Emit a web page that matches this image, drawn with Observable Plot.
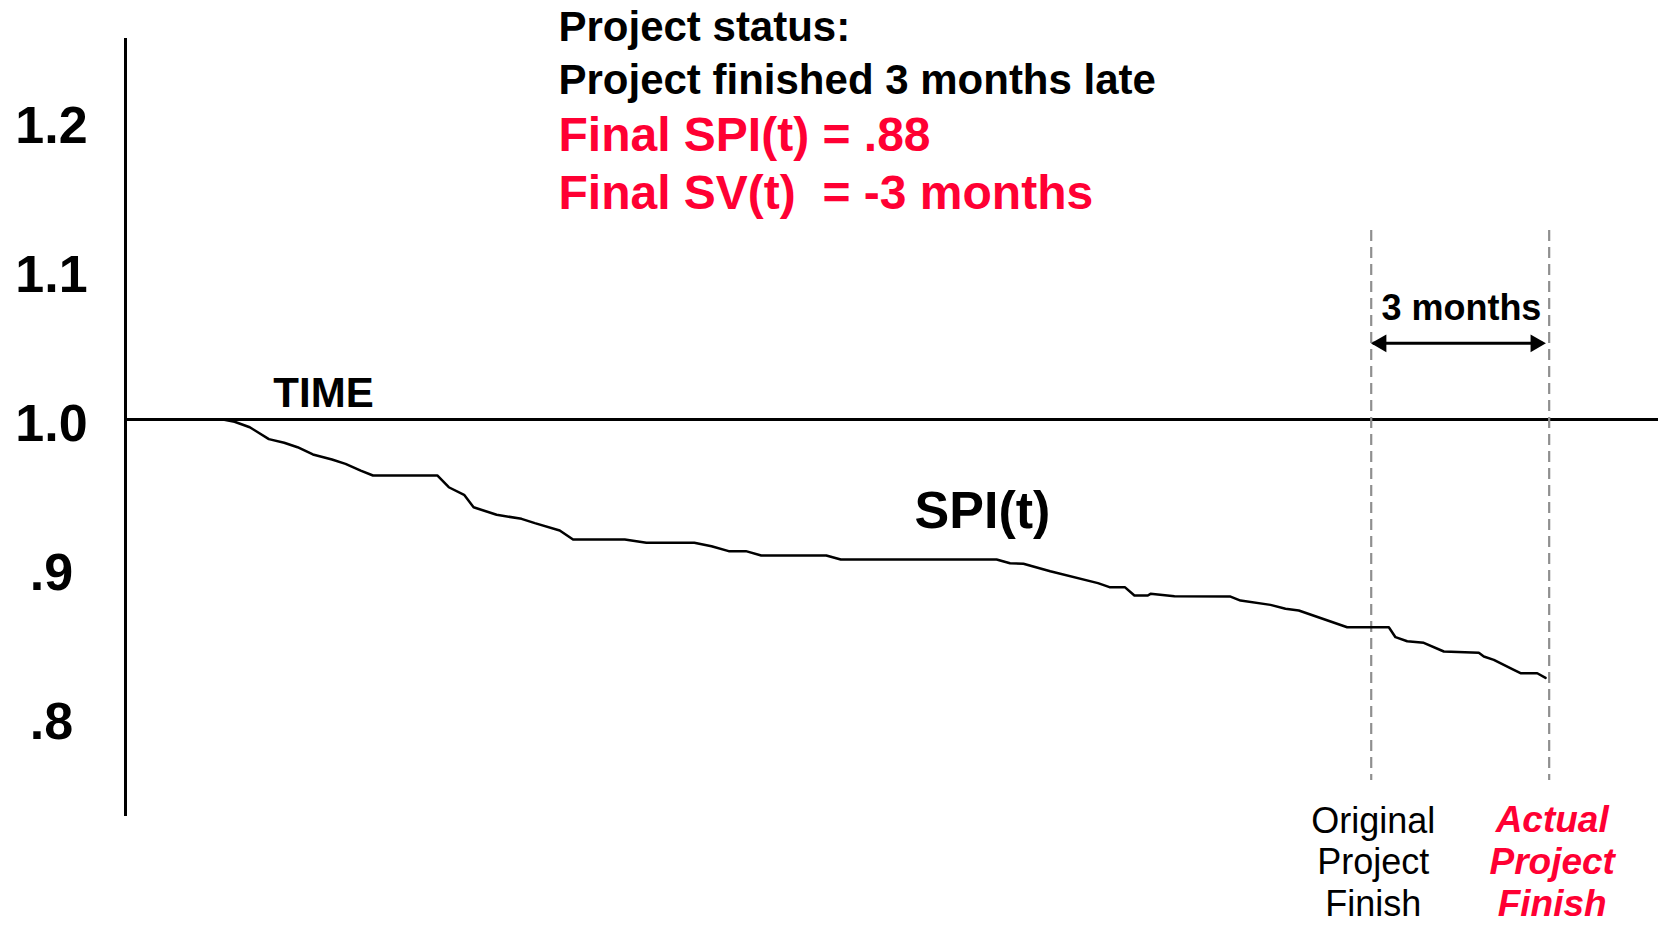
<!DOCTYPE html>
<html>
<head>
<meta charset="utf-8">
<script src="https://cdn.jsdelivr.net/npm/d3@7"></script>
<script src="https://cdn.jsdelivr.net/npm/@observablehq/plot@0.6"></script>
<style>
  html, body { margin: 0; padding: 0; background: #ffffff; }
  svg text { white-space: pre; }
</style>
</head>
<body>
<div id="chart"></div>
<script>
// ---- data (months since start, SPI(t)) ----
const months = [0, 1.644, 1.838, 2.095, 2.417, 2.675, 2.900, 3.159, 3.481, 3.709, 3.965, 4.172, 5.256, 5.450, 5.708, 5.868, 6.256, 6.676, 6.901, 7.320, 7.545, 8.417, 8.781, 9.589, 9.879, 10.169, 10.459, 10.717, 11.814, 12.058, 14.685, 14.911, 15.137, 15.589, 16.394, 16.588, 16.846, 17.008, 17.234, 17.280, 17.684, 18.628, 18.797, 19.302, 19.555, 19.779, 20.595, 21.297, 21.409, 21.607, 21.886, 22.224, 22.814, 22.898, 23.067, 23.404, 23.517, 23.799, 23.939];
const spi = [1.000, 1.000, 0.9985, 0.9948, 0.9868, 0.9844, 0.9814, 0.9765, 0.9731, 0.9702, 0.9657, 0.9624, 0.9624, 0.9545, 0.9494, 0.9411, 0.9360, 0.9333, 0.9304, 0.9255, 0.9194, 0.9194, 0.9172, 0.9172, 0.9149, 0.9116, 0.9116, 0.9087, 0.9087, 0.9060, 0.9060, 0.9035, 0.9031, 0.8981, 0.8901, 0.8874, 0.8874, 0.8818, 0.8818, 0.8829, 0.8813, 0.8811, 0.8784, 0.8755, 0.8729, 0.8717, 0.8605, 0.8605, 0.8538, 0.8511, 0.8500, 0.8442, 0.8433, 0.8408, 0.8386, 0.8319, 0.8296, 0.8296, 0.8265];
const yTicks = [1.2, 1.1, 1.0, 0.9, 0.8];
const yTickLabels = ["1.2", "1.1", "1.0", ".9", ".8"];
const baseline = [1.0];
const plannedFinish = 21;   // months
const actualFinish = 24;    // months
const statusLines = ["Project status:", "Project finished 3 months late"];
const resultLines = ["Final SPI(t) = .88", "Final SV(t)  = -3 months"];
const finishLabels = ["Original\nProject\nFinish", "Actual\nProject\nFinish"];
const gapLabel = ["3 months"];
const timeLabel = ["TIME"];
const seriesLabel = ["SPI(t)"];

// ---- build ----
const rows = months.map((m, i) => ({month: m, spi: spi[i]}));
const RED = "#ff0033";
const FONT = "'Liberation Sans', Arial, Helvetica, sans-serif";
const xMax = 25.843;
const arrowY = 1.0512;

const chart = Plot.plot({
  width: 1658,
  height: 926,
  marginLeft: 125,
  marginRight: 0,
  marginTop: 0,
  marginBottom: 0,
  style: {fontFamily: FONT, background: "#ffffff", color: "#000", overflow: "visible"},
  x: {domain: [0, xMax], axis: null},
  y: {domain: [0.6595, 1.2814], axis: null},
  marks: [
    // y tick labels via the library's axis
    Plot.axisY(yTicks, {
      anchor: "left",
      tickSize: 0,
      tickPadding: 0,
      tickFormat: d => yTickLabels[yTicks.indexOf(d)],
      textAnchor: "middle",
      dx: -74,
      dy: 5,
      fontSize: 52,
      fontWeight: "bold",
      fill: "#000",
      label: null
    }),
    // vertical axis line
    Plot.ruleX([0], {y1: 1.2559, y2: 0.7334, stroke: "#000", strokeWidth: 3}),
    // TIME baseline (SPI = 1)
    Plot.ruleY(baseline, {x1: 0, x2: xMax, stroke: "#000", strokeWidth: 2.8}),
    // finish markers
    Plot.ruleX([plannedFinish, actualFinish], {y1: 1.127, y2: 0.7576, stroke: "#8f8f8f", strokeWidth: 2.2, strokeDasharray: "11,6"}),
    // SPI(t) curve
    Plot.line(rows, {x: "month", y: "spi", stroke: "#000", strokeWidth: 2.5, curve: "linear", strokeLinejoin: "round"}),
    // 3-month arrow
    Plot.ruleY([arrowY], {x1: plannedFinish, x2: actualFinish, insetLeft: 2, insetRight: 6, stroke: "#000", strokeWidth: 2.8}),
    Plot.dot([plannedFinish], {x: d => d, y: arrowY, symbol: "triangle", r: 6.6, rotate: -90, dx: 10, fill: "#000", stroke: "none"}),
    Plot.dot([actualFinish], {x: d => d, y: arrowY, symbol: "triangle", r: 6.6, rotate: 90, dx: -13.5, fill: "#000", stroke: "none"}),
    Plot.text(gapLabel, {x: 22.52, y: 1.0665, text: d => d, lineAnchor: "bottom", textAnchor: "middle", fontSize: 36, fontWeight: "bold", fill: "#000"}),
    // labels
    Plot.text(timeLabel, {x: 3.338, y: 1.0084, text: d => d, lineAnchor: "bottom", textAnchor: "middle", fontSize: 42, fontWeight: "bold", fill: "#000"}),
    Plot.text(seriesLabel, {x: 14.447, y: 0.9268, text: d => d, lineAnchor: "bottom", textAnchor: "middle", fontSize: 52, fontWeight: "bold", fill: "#000"}),
    // status block
    Plot.text([statusLines[0]], {x: 7.299, y: 1.2545, text: d => d, lineAnchor: "bottom", textAnchor: "start", fontSize: 42, fontWeight: "bold", fill: "#000"}),
    Plot.text([statusLines[1]], {x: 7.299, y: 1.2189, text: d => d, lineAnchor: "bottom", textAnchor: "start", fontSize: 42, fontWeight: "bold", fill: "#000"}),
    Plot.text([resultLines[0]], {x: 7.299, y: 1.1800, text: d => d, lineAnchor: "bottom", textAnchor: "start", fontSize: 48, fontWeight: "bold", fill: RED}),
    Plot.text([resultLines[1]], {x: 7.299, y: 1.1417, text: d => d, lineAnchor: "bottom", textAnchor: "start", fontSize: 48, fontWeight: "bold", fill: RED}),
    // finish labels
    Plot.text([finishLabels[0]], {x: plannedFinish, y: 0.6665, dx: 2, text: d => d, lineAnchor: "bottom", lineHeight: 1.16, textAnchor: "middle", fontSize: 36, fill: "#000"}),
    Plot.text([finishLabels[1]], {x: actualFinish, y: 0.6665, dx: 3, text: d => d, lineAnchor: "bottom", lineHeight: 1.13, textAnchor: "middle", fontSize: 37, fontWeight: "bold", fontStyle: "italic", fill: RED})
  ]
});
document.getElementById("chart").appendChild(chart);
</script>
</body>
</html>
